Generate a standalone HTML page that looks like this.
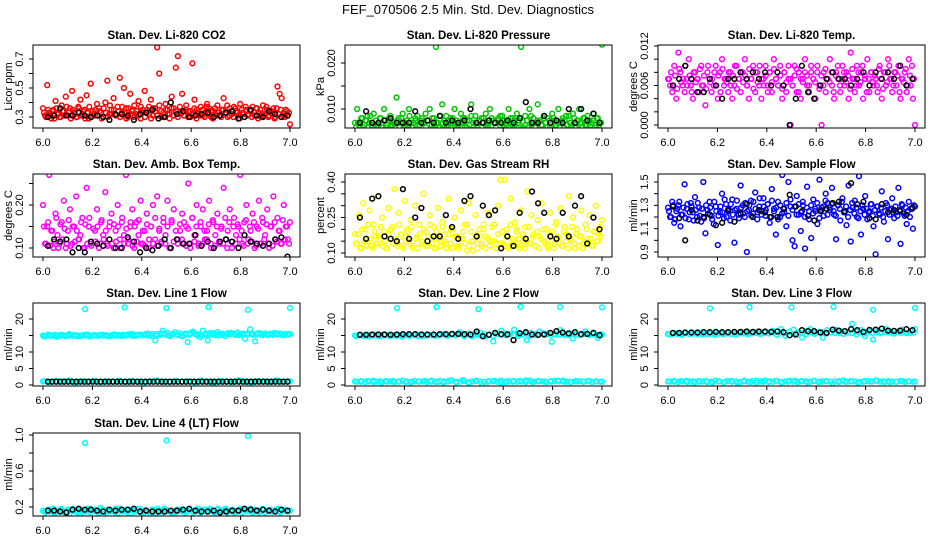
<!DOCTYPE html>
<html><head><meta charset="utf-8">
<style>
html,body{margin:0;padding:0;background:#fff;}
svg{display:block;font-family:"Liberation Sans",Arial,sans-serif;}
</style></head>
<body>
<svg id="chart" width="936" height="540" viewBox="0 0 936 540" xmlns="http://www.w3.org/2000/svg">
<text x="468" y="14" text-anchor="middle" font-size="13">FEF_070506  2.5 Min. Std. Dev. Diagnostics</text>
</svg>
<script>
// ---- data ----
const xTicks = [6.0, 6.2, 6.4, 6.6, 6.8, 7.0];
const xTickLabels = ["6.0","6.2","6.4","6.6","6.8","7.0"];

const co2Red = [0.36,0.31,0.52,0.33,0.29,0.35,0.41,0.32,0.30,0.38,0.34,0.44,0.31,0.36,0.48,0.33,0.30,0.37,0.42,0.32,0.35,0.45,0.29,0.53,0.34,0.31,0.39,0.36,0.33,0.30,0.40,0.55,0.32,0.35,0.43,0.31,0.37,0.57,0.33,0.50,0.36,0.30,0.46,0.34,0.38,0.32,0.41,0.29,0.35,0.48,0.33,0.37,0.42,0.31,0.36,0.78,0.60,0.34,0.30,0.39,0.35,0.32,0.44,0.36,0.64,0.72,0.33,0.46,0.31,0.38,0.34,0.30,0.67,0.42,0.35,0.32,0.37,0.31,0.33,0.39,0.36,0.30,0.34,0.32,0.38,0.31,0.35,0.43,0.33,0.30,0.36,0.32,0.37,0.34,0.31,0.39,0.33,0.30,0.35,0.32,0.34,0.37,0.31,0.36,0.33,0.30,0.38,0.32,0.35,0.31,0.34,0.36,0.30,0.51,0.46,0.43,0.33,0.35,0.31,0.25];
const co2RedB = [0.33,0.30,0.35,0.31,0.34,0.29,0.36,0.32,0.30,0.34,0.31,0.37,0.33,0.29,0.35,0.32,0.30,0.36,0.31,0.34,0.29,0.33,0.37,0.30,0.32,0.35,0.31,0.34,0.29,0.36,0.33,0.30,0.38,0.32,0.35,0.31,0.34,0.30,0.37,0.33,0.29,0.36,0.32,0.35,0.30,0.34,0.31,0.37,0.33,0.30,0.35,0.32,0.29,0.36,0.34,0.31,0.38,0.30,0.33,0.35,0.32,0.29,0.36,0.31,0.34,0.30,0.37,0.33,0.31,0.35,0.30,0.34,0.32,0.36,0.29,0.33,0.31,0.35,0.30,0.37,0.32,0.34,0.29,0.36,0.31,0.33,0.30,0.35,0.32,0.38,0.31,0.34,0.30,0.36,0.33,0.29,0.35,0.32,0.37,0.31,0.34,0.30,0.33,0.36,0.29,0.35,0.32,0.31,0.37,0.30,0.34,0.33,0.29,0.36,0.32,0.35,0.31,0.30,0.34,0.33];
const co2Black = [0.30,0.31,0.36,0.31,0.31,0.33,0.31,0.30,0.31,0.30,0.28,0.32,0.32,0.31,0.28,0.32,0.33,0.35,0.29,0.30,0.40,0.32,0.34,0.30,0.31,0.32,0.33,0.30,0.31,0.33,0.34,0.29,0.30,0.35,0.31,0.30,0.34,0.32,0.30,0.31];
const co2Ticks = [0.3,0.4,0.5,0.6,0.7];
const co2TickLabels = ["0.3","","0.5","","0.7"];

const presGreen = [7,10,6.5,8,6,7.5,8.5,7,6.5,9,7.5,6.5,8,7,10,6,7.5,8.5,6.5,7,12.5,8,7,9,6.5,7.5,10,7,6,8,8.5,6.5,7.5,7,9,7.5,10,6.5,8,23.5,7,6,11,7.5,8.5,6.5,8,7,10,7.5,6.5,9,7,8,6,7.5,11,7,8.5,6.5,7.5,8,7,9,6.5,10,7.5,7,6,8,8.5,7.5,7.5,6.5,10,7,8,6.5,9,7.5,23.5,6,8.5,7.5,10,6.5,8,7,11,7.5,6.5,8.5,7,8,6,9,7.5,6.5,10,7,8,7.5,6.5,8.5,7,9,6,7.5,10,7,8,6.5,8.5,7.5,7,9,6.5,8,7,24];
const presGreenB = [6,7,5.5,8,6.5,7.5,6,8.5,7,5.5,6.5,7,8,6,7.5,5.5,8,6.5,7,6,7.5,6,8,5.5,7,6.5,8.5,6,7,7.5,5.5,6.5,8,7,6,7.5,5.5,8,6.5,7,6,8.5,7,5.5,6.5,7.5,6,8,7,6.5,5.5,7,8,6,7.5,6.5,8.5,5.5,7,6,7.5,6,8,6.5,7,5.5,8,7,6,7.5,6.5,8.5,5.5,7,6,8,6.5,7.5,6,7,8,5.5,6.5,7.5,6,8.5,7,6,7.5,5.5,6.5,8,7,6,7.5,5.5,8,6.5,7,6,7.5,6,8.5,5.5,7,6.5,8,6,7.5,7,6,8,6.5,7,5.5,7.5,6,8,6.5,7];
const presBlack = [7,9.5,7,7,7.5,8,7,7,7,9.5,7,7.5,7,8.5,7,7.5,7,7.5,10,7,7,7.5,7,7,7.5,7,8,11.5,7,7,8.5,7,7.5,7,10,7,10,7.5,9,7];
const presTicks = [10,15,20];
const presTickLabels = ["0.010","","0.020"];

const tempMagenta = [7,6,5,9,4,11,8,6,5,7,10,6,4,8,7,5,9,6,3,8,7,5,6,9,4,8,10,6,7,5,8,4,6,9,7,5,8,10,6,4,7,9,5,8,6,4,7,9,6,8,5,10,7,6,9,4,8,5,7,0,6,9,5,8,4,7,10,6,5,8,7,4,9,6,0,8,5,7,10,6,4,8,7,5,9,6,8,4,11,7,5,9,6,8,4,7,10,5,8,6,7,5,9,4,8,6,10,7,5,8,6,9,4,7,8,5,10,6,4,0];
const tempMagentaB = [7,8,6,7.5,5.5,8.5,6.5,7,9,6,7.5,5,8,6.5,7,8.5,6,7.5,5.5,9,6.5,7,8,6,7.5,5,8.5,7,6.5,8,6,7.5,9,5.5,7,8,6.5,7.5,6,8.5,7,5.5,8,6.5,9,7,6,7.5,5,8,6.5,8.5,7,6,7.5,5.5,8,6.5,9,7,6,7.5,8.5,5,7,6.5,8,7.5,6,9,7,6.5,8,5.5,7.5,6,8.5,7,6.5,8,5,7.5,9,6,7,8,6.5,7.5,5.5,8.5,7,6,8,6.5,9,7.5,5,7,8,6.5,7.5,6,8.5,7,5.5,8,6.5,9,7,6,8,7.5,5,7,6.5,8.5,6,7.5,9,7];
const tempBlack = [6,7,9,7,5,5,7,6,4,7,7,8,7,8,7,8,6,8,6,0,4,9,5,4,6,7,8,7,7,6,7,8,6,8,7,8,7,9,6,7];
const tempTicks = [0,2,4,6,8,10,12];
const tempTickLabels = ["0.000","","","0.006","","","0.012"];

const ambMagenta = [0.20,0.11,0.15,0.27,0.14,0.10,0.18,0.13,0.11,0.16,0.21,0.10,0.14,0.19,0.11,0.15,0.22,0.12,0.13,0.17,0.10,0.24,0.15,0.11,0.28,0.14,0.19,0.10,0.16,0.13,0.23,0.11,0.15,0.18,0.10,0.14,0.20,0.12,0.16,0.13,0.27,0.11,0.15,0.19,0.10,0.16,0.13,0.21,0.11,0.14,0.18,0.10,0.15,0.20,0.12,0.22,0.14,0.11,0.17,0.13,0.21,0.10,0.16,0.19,0.28,0.12,0.14,0.18,0.11,0.15,0.25,0.10,0.17,0.13,0.20,0.11,0.15,0.19,0.12,0.14,0.21,0.10,0.16,0.13,0.18,0.11,0.15,0.24,0.12,0.14,0.19,0.10,0.17,0.13,0.15,0.27,0.11,0.16,0.20,0.12,0.14,0.18,0.10,0.15,0.21,0.11,0.16,0.13,0.19,0.10,0.15,0.22,0.12,0.17,0.14,0.11,0.20,0.15,0.12,0.16];
const ambMagentaB = [0.15,0.11,0.16,0.105,0.14,0.115,0.17,0.10,0.155,0.12,0.145,0.11,0.165,0.105,0.15,0.115,0.14,0.12,0.16,0.10,0.155,0.11,0.17,0.105,0.145,0.115,0.15,0.11,0.165,0.12,0.14,0.105,0.16,0.11,0.155,0.115,0.15,0.10,0.17,0.11,0.145,0.12,0.16,0.105,0.15,0.115,0.165,0.11,0.14,0.105,0.155,0.12,0.15,0.11,0.17,0.105,0.145,0.115,0.16,0.11,0.15,0.10,0.165,0.115,0.14,0.11,0.155,0.12,0.16,0.105,0.145,0.11,0.17,0.115,0.15,0.105,0.16,0.11,0.14,0.12,0.155,0.11,0.165,0.105,0.15,0.115,0.145,0.11,0.17,0.10,0.16,0.115,0.15,0.11,0.155,0.12,0.14,0.105,0.165,0.11,0.15,0.115,0.16,0.105,0.145,0.11,0.17,0.12,0.155,0.11,0.15,0.105,0.16,0.115,0.14,0.11,0.165,0.12,0.15,0.11];
const ambBlack = [0.105,0.12,0.115,0.12,0.09,0.10,0.09,0.115,0.11,0.105,0.12,0.10,0.10,0.125,0.115,0.09,0.10,0.095,0.105,0.12,0.10,0.12,0.11,0.11,0.13,0.105,0.115,0.10,0.115,0.12,0.115,0.10,0.13,0.115,0.11,0.105,0.11,0.12,0.125,0.08];
const ambTicks = [0.10,0.15,0.20,0.25];
const ambTickLabels = ["0.10","","0.20",""];

const rhYellow = [0.18,0.14,0.26,0.12,0.31,0.20,0.15,0.28,0.13,0.22,0.17,0.34,0.14,0.25,0.19,0.12,0.29,0.16,0.21,0.37,0.14,0.27,0.18,0.13,0.32,0.20,0.15,0.24,0.12,0.30,0.17,0.22,0.14,0.35,0.19,0.13,0.26,0.16,0.21,0.12,0.29,0.15,0.23,0.18,0.14,0.33,0.20,0.12,0.25,0.17,0.13,0.28,0.16,0.22,0.11,0.31,0.19,0.15,0.26,0.14,0.20,0.13,0.22,0.17,0.27,0.15,0.15,0.22,0.12,0.30,0.41,0.14,0.41,0.20,0.13,0.33,0.16,0.23,0.19,0.12,0.28,0.15,0.21,0.36,0.14,0.26,0.18,0.13,0.24,0.17,0.31,0.15,0.20,0.12,0.27,0.19,0.14,0.23,0.16,0.29,0.13,0.21,0.18,0.34,0.15,0.25,0.12,0.20,0.17,0.28,0.14,0.22,0.16,0.26,0.13,0.19,0.30,0.15,0.21,0.24];
const rhYellowB = [0.14,0.18,0.12,0.20,0.15,0.13,0.22,0.16,0.12,0.19,0.14,0.17,0.21,0.13,0.15,0.12,0.18,0.20,0.14,0.16,0.13,0.22,0.15,0.12,0.17,0.19,0.14,0.21,0.13,0.16,0.12,0.18,0.15,0.20,0.13,0.17,0.22,0.14,0.12,0.19,0.16,0.13,0.21,0.15,0.12,0.18,0.14,0.20,0.17,0.13,0.12,0.16,0.19,0.14,0.22,0.13,0.15,0.11,0.18,0.12,0.17,0.14,0.20,0.12,0.16,0.13,0.21,0.15,0.12,0.18,0.14,0.19,0.13,0.17,0.12,0.22,0.15,0.14,0.20,0.16,0.13,0.18,0.12,0.15,0.21,0.14,0.17,0.13,0.19,0.12,0.16,0.20,0.14,0.13,0.18,0.15,0.12,0.22,0.17,0.14,0.13,0.19,0.15,0.12,0.16,0.21,0.14,0.18,0.13,0.17,0.12,0.15,0.20,0.14,0.16,0.13,0.19,0.15,0.18,0.17];
const rhBlack = [0.25,0.16,0.33,0.34,0.17,0.16,0.15,0.37,0.16,0.25,0.29,0.15,0.17,0.17,0.26,0.21,0.16,0.32,0.34,0.17,0.30,0.26,0.28,0.12,0.17,0.13,0.27,0.16,0.36,0.31,0.27,0.17,0.16,0.27,0.17,0.30,0.34,0.14,0.25,0.20];
const rhTicks = [0.10,0.15,0.20,0.25,0.30,0.35,0.40];
const rhTickLabels = ["0.10","","","0.25","","","0.40"];

const flowBlue = [1.28,1.20,1.33,1.15,1.25,1.30,1.12,1.22,1.48,1.27,1.18,1.32,1.24,1.37,1.20,1.28,1.16,1.50,1.06,1.26,1.33,1.21,1.14,1.29,0.96,1.24,1.40,1.19,1.31,1.25,1.17,1.35,0.98,1.27,1.22,1.47,1.30,1.20,0.90,1.26,1.34,1.23,1.41,1.18,1.29,1.25,1.36,1.21,1.31,1.15,1.44,1.27,1.05,1.33,1.20,1.56,1.24,1.12,1.50,1.29,1.00,0.95,1.38,1.22,1.08,1.30,0.93,1.46,1.18,1.02,1.35,1.25,1.14,1.52,1.28,1.21,1.40,1.32,1.26,1.45,1.22,1.01,1.30,1.17,1.36,1.24,1.13,1.47,0.99,1.28,1.34,1.20,1.55,1.05,1.27,1.38,1.18,1.25,1.31,1.12,0.88,1.29,1.22,1.42,1.16,1.32,1.01,1.26,1.36,1.19,1.24,1.45,0.97,1.30,1.21,1.14,1.33,1.27,1.10,1.29];
const flowBlueB = [1.25,1.20,1.30,1.18,1.27,1.33,1.22,1.28,1.19,1.31,1.24,1.29,1.17,1.26,1.32,1.21,1.27,1.19,1.30,1.23,1.28,1.18,1.33,1.25,1.21,1.29,1.24,1.35,1.20,1.27,1.31,1.22,1.26,1.34,1.19,1.28,1.23,1.32,1.25,1.30,1.21,1.33,1.27,1.24,1.36,1.22,1.29,1.26,1.31,1.20,1.34,1.25,1.28,1.18,1.30,1.23,1.27,1.32,1.21,1.35,1.26,1.29,1.22,1.31,1.24,1.33,1.20,1.28,1.25,1.30,1.23,1.27,1.32,1.19,1.26,1.29,1.34,1.22,1.28,1.31,1.25,1.21,1.30,1.27,1.33,1.24,1.29,1.20,1.26,1.32,1.23,1.28,1.19,1.25,1.30,1.22,1.27,1.24,1.31,1.21,1.26,1.29,1.23,1.28,1.20,1.25,1.30,1.22,1.27,1.24,1.29,1.21,1.26,1.31,1.23,1.28,1.25,1.20,1.27,1.30];
const flowBlack = [1.29,1.19,1.00,1.26,1.17,1.20,1.22,1.13,1.15,1.26,1.16,1.23,1.31,1.20,1.26,1.24,1.20,1.20,1.27,1.39,1.29,1.25,1.21,1.17,1.25,1.27,1.32,1.33,1.25,1.49,1.31,1.33,1.19,1.18,1.31,1.24,1.26,1.25,1.22,1.28];
const flowTicks = [0.9,1.0,1.1,1.2,1.3,1.4,1.5];
const flowTickLabels = ["0.9","","1.1","","1.3","","1.5"];

const lineTicks = [0,5,10,15,20];
const lineTickLabels = ["0","5","10","","20"];
const spikeX = [6.17,6.33,6.50,6.67,6.83,7.00];

const line1CyanHigh = [15,14.8,15.1,14.9,15,15.2,14.9,15,15.1,14.8,15,15.2,14.9,15.1,15,14.8,15.1,15,15.2,14.9,15,15.1,14.9,15.2,15,15.1,14.8,15,15.3,15,15.1,14.9,15.2,15,15.3,15.1,14.9,15.2,15,15.3,15.1,15.4,15,15.2,15.5,13.5,15.1,15.6,16.5,15.2,15.8,14.8,15.4,16,15.2,15.6,14.9,15.3,13,15.7,16.2,15.4,15,14.5,16.5,15.2,13.5,15.8,15.4,15.1,16,15.5,15.3,14.8,15.7,15.4,15.6,15.2,15.9,15.5,15.3,14,15.6,16.9,15.2,13.2,15.7,15.4,15.1,15.6,15.3,15.5,15.2,15.8,15.4,15.6,15.1,15.5,15.3,15.4];
const line1CyanHighB = [14.7,15.3,15.0,14.6,15.2,14.9,15.4,15.1,14.8,15.0,15.3,14.7,15.1,14.9,15.2,15.0,14.8,15.3,15.1,14.9,15.2,15.5,14.9,15.3,15.1,15.6,14.8,15.4,15.2,15.7,15.0,15.5,15.3,14.9,15.6,15.2,15.8,15.4,15.1,15.6,15.3,15.7,15.0,15.5,15.2,15.8,15.4,15.1,15.6,15.3,15.5,15.2,15.7,15.4,15.1,15.6,15.3,15.5,15.2,15.4];
const line1CyanLow = [1.1,0.9,1.2,1.0,1.3,0.8,1.1,1.0,1.2,0.9,1.1,1.0,1.3,0.9,1.2,1.0,0.8,1.1,1.4,1.0,0.9,1.2,1.0,1.1,0.7,1.3,1.0,0.6,1.2,1.1,0.9,1.4,1.0,0.8,1.2,1.1,0.9,1.3,1.0,1.1];
const line1Spikes = [23,23.5,23.3,23.6,22.8,23.4];
const line1Black = [1.0,1.0,1.0,1.0,1.0,1.0,1.0,1.0,1.0,1.0,1.0,1.0,1.0,1.0,1.0,1.0,1.0,1.0,1.0,1.0,1.0,1.0,1.0,1.0,1.0,1.0,1.0,1.0,1.0,1.0,1.0,1.0,1.0,1.0,1.0,1.0,1.0,1.0,1.0,1.0,1.0,1.0,1.0,1.0,1.0,1.0,1.0,1.0,1.0,1.0,1.0,1.0,1.0,1.0,1.0,1.0,1.0,1.0,1.0,1.0];

const line2CyanHigh = [15,15.1,14.9,15.2,15,15.1,14.8,15,15.2,15.1,14.9,15,15.2,15,15.1,14.9,15.3,15,15.1,15.2,15,15.3,15.1,15.4,15.2,16,15.1,15.6,14.8,15.3,15.7,14.7,15.2,13.2,15.6,16.5,15.1,15.4,16.8,14.9,15.5,13.6,15.8,15.2,16.2,15.4,15.6,13.1,15.3,16.6,15.2,15.8,14.1,15.5,15.3,16.2,15.1,15.6,14.3,15.2];
const line2CyanHighB = [14.8,15.2,15.0,14.7,15.3,14.9,15.1,15.2,14.8,15.0,15.3,14.7,15.1,14.9,15.2,15.0,14.8,15.3,15.1,14.9,15.2,15.4,14.9,15.3,15.1,15.5,14.8,15.4,15.2,15.6,15.0,15.4,15.3,14.9,15.5,15.2,15.6,15.4,15.1,15.5,15.3,15.6,15.0,15.4,15.2,15.7,15.4,15.1,15.5,15.3,15.4,15.2,15.6,15.4,15.1,15.5,15.3,15.4,15.2,15.4];
const line2CyanLow = [1.1,1.0,1.2,0.9,1.1,1.0,1.2,1.1,0.9,1.0,1.1,1.2,1.0,0.9,1.1,1.3,0.8,1.5,0.6,1.2,0.4,1.0,1.3,0.8,1.1,1.0,1.2,1.4,0.9,1.1,1.0,1.2,1.3,1.0,0.9,1.1,1.0,1.2,1.1,1.0];
const line2CyanLowB = [1.0,1.2,0.9,1.1,1.3,1.0,0.8,1.2,1.1,0.9,1.0,1.3,1.1,0.8,1.2,1.0,1.1,0.9,1.3,1.0,1.2,0.7,1.1,1.4,0.9,1.0,1.2,0.8,1.1,1.3,1.0,0.9,1.2,1.1,1.0,1.3,0.9,1.1,1.2,1.0,1.1,0.9,1.3,1.0,1.2,1.1,0.9,1.0,1.2,1.1,1.3,1.0,0.9,1.2,1.1,1.0,1.2,0.9,1.1,1.0];
const line2Spikes = [23.3,23.6,23.0,23.7,23.6,23.5];
const line2Black = [15.2,15.2,15.3,15.3,15.3,15.2,15.3,15.4,15.4,15.4,15.3,15.3,15.3,15.4,15.4,15.5,15.5,15.4,15.3,16.2,14.8,15.2,15.8,15.4,15.3,13.6,15.7,16.0,15.3,15.2,15.3,15.8,16.3,15.9,15.6,16.0,15.4,15.5,15.8,15.1];

const line3CyanHigh = [15.5,15.4,15.6,15.5,15.7,15.5,15.6,15.4,15.6,15.7,15.5,15.6,15.8,15.6,15.7,15.5,15.8,15.6,15.9,15.7,15.6,15.8,15.7,16,15.8,16.5,15.2,16.9,14.9,16.2,16.8,15.6,14.4,16.4,16.9,15.5,16.1,14.3,16.6,15.9,16.8,15.7,16.4,16.1,18.5,15.3,16.7,14.8,16.2,13.8,16.5,15.9,16.9,16.3,15.6,16.2,16.8,15.8,16.4,16.9];
const line3CyanHighB = [15.3,15.7,15.5,15.2,15.8,15.4,15.6,15.7,15.3,15.5,15.8,15.2,15.6,15.4,15.7,15.5,15.3,15.8,15.6,15.4,15.7,15.9,15.4,15.8,15.6,16.0,15.3,15.9,15.7,16.1,15.5,15.9,15.8,15.4,16.0,15.7,16.1,15.9,15.6,16.0,15.8,16.1,15.5,15.9,15.7,16.2,15.9,15.6,16.0,15.8,15.9,15.7,16.1,15.9,15.6,16.0,15.8,15.9,15.7,15.9];
const line3CyanLow = [1.1,1.0,1.2,0.9,1.1,1.0,1.2,0.8,1.1,1.0,1.2,0.6,1.1,0.9,1.3,1.0,1.1,1.2,0.9,1.0,1.3,1.1,0.8,1.2,1.0,1.1,0.5,1.2,1.0,1.1,0.7,1.2,1.0,1.3,1.1,0.9,1.0,1.2,1.1,1.0];
const line3CyanLowB = [1.0,1.2,0.9,1.1,1.3,1.0,0.8,1.2,1.1,0.9,1.0,1.3,1.1,0.8,1.2,1.0,1.1,0.9,1.3,1.0,1.2,0.7,1.1,1.4,0.9,1.0,1.2,0.8,1.1,1.3,1.0,0.9,1.2,1.1,1.0,1.3,0.9,1.1,1.2,1.0,1.1,0.9,1.3,1.0,1.2,1.1,0.9,1.0,1.2,1.1,1.3,1.0,0.9,1.2,1.1,1.0,1.2,0.9,1.1,1.0];
const line3Spikes = [23.2,23.6,23.5,23.7,22.8,23.4];
const line3Black = [15.8,15.8,15.9,15.9,15.9,16.0,16.0,16.1,16.0,16.0,16.1,16.1,16.2,16.1,16.2,16.2,16.1,16.2,16.0,15.1,15.3,16.6,16.3,16.3,15.9,15.8,16.8,16.5,16.3,16.9,16.6,16.1,16.7,16.8,17.1,16.5,16.4,16.5,16.9,16.6];

const lt4Cyan = [0.16,0.14,0.17,0.15,0.18,0.14,0.16,0.17,0.15,0.13,0.17,0.16,0.18,0.15,0.14,0.17,0.16,0.15,0.18,0.14,0.16,0.17,0.15,0.19,0.16,0.14,0.17,0.15,0.16,0.18,0.13,0.16,0.17,0.15,0.14,0.17,0.16,0.15,0.18,0.14,0.16,0.17,0.15,0.13,0.17,0.16,0.18,0.15,0.14,0.17,0.16,0.15,0.13,0.14,0.16,0.17,0.15,0.14,0.16,0.17,0.15,0.16,0.18,0.14,0.16,0.17,0.15,0.18,0.16,0.14,0.17,0.16,0.15,0.18,0.14,0.16,0.17,0.15,0.16,0.18,0.14,0.16,0.17,0.15,0.14,0.17,0.16,0.15,0.18,0.14,0.16,0.17,0.15,0.16,0.18,0.15,0.16,0.17,0.15,0.16];
const lt4CyanB = [0.15,0.17,0.14,0.16,0.18,0.15,0.13,0.17,0.16,0.14,0.15,0.18,0.16,0.13,0.17,0.15,0.16,0.14,0.18,0.15,0.17,0.13,0.16,0.18,0.14,0.15,0.17,0.13,0.16,0.18,0.15,0.14,0.17,0.16,0.15,0.18,0.14,0.16,0.17,0.15,0.16,0.14,0.18,0.15,0.17,0.16,0.14,0.15,0.17,0.16,0.18,0.15,0.14,0.17,0.16,0.15,0.17,0.14,0.16,0.15];
const lt4SpikeX = [6.17,6.50,6.83];
const lt4Spikes = [0.91,0.94,0.99];
const lt4Black = [0.16,0.16,0.15,0.14,0.17,0.18,0.17,0.17,0.16,0.15,0.17,0.16,0.17,0.17,0.18,0.15,0.16,0.15,0.15,0.15,0.16,0.16,0.17,0.18,0.16,0.15,0.15,0.16,0.14,0.15,0.16,0.16,0.18,0.17,0.16,0.17,0.16,0.15,0.17,0.16];

// ---- layout ----
const NS = "http://www.w3.org/2000/svg";
const svg = document.getElementById('chart');
const colLeft = [33,345,658], rowTop = [45,174,303,433];
const PW = 267, PH = 83;

function mk(tag, attrs, parent){
  const e = document.createElementNS(NS, tag);
  for (const k in attrs) e.setAttribute(k, attrs[k]);
  (parent||svg).appendChild(e);
  return e;
}
function evenX(n, x0, x1){ const a=[]; for(let i=0;i<n;i++) a.push(n===1?x0:x0+(x1-x0)*i/(n-1)); return a; }

function panel(p){
  const L = colLeft[p.col], T = rowTop[p.row];
  const g = mk('g', {});
  
  
  const xs = v => L + 10 + (v - 6) * 247;
  const ys = v => p.y0px + (v - p.y0) * (p.y1px - p.y0px) / (p.y1 - p.y0);
  const clipId = 'clip-' + p.name;
  const cp = mk('clipPath', {id: clipId}, g);
  mk('rect', {x: L, y: T, width: PW, height: PH}, cp);
  const marks = mk('g', {'clip-path': 'url(#' + clipId + ')'}, g);
  
  
  p.series.forEach(s => {
    const xv = s.x || evenX(s.y.length, s.x0, s.x1);
    s.y.forEach((v, i) => {
      const c = mk('circle', {cx: xs(xv[i]).toFixed(1), cy: ys(v).toFixed(1), r: 2.4, fill: 'none', stroke: s.color, 'stroke-width': 1.5}, marks);
      
      
    });
  });
  const box = mk('rect', {x: L, y: T, width: PW, height: PH, fill: 'none', stroke: '#000', 'stroke-width': 1}, g);
  
  
  const ttl = mk('text', {x: L + PW/2, y: T - 6, 'text-anchor': 'middle', 'font-size': 11.5, 'font-weight': 'bold'}, g);
  ttl.textContent = p.title;
  
  
  xTicks.forEach((t, i) => {
    const x = xs(t);
    mk('line', {x1: x, x2: x, y1: T + PH, y2: T + PH + 4, stroke: '#000'}, g);
    const lb = mk('text', {x: x, y: T + PH + 18, 'text-anchor': 'middle', 'font-size': 11}, g);
    lb.textContent = xTickLabels[i];
    
    
  });
  p.ticks.forEach((t, i) => {
    const y = ys(t);
    mk('line', {x1: L - 4, x2: L, y1: y, y2: y, stroke: '#000'}, g);
    if (p.tickLabels[i]) {
      const lb = mk('text', {x: 0, y: 0, 'text-anchor': 'middle', 'font-size': 11, transform: 'translate(' + (L - 10) + ',' + y + ') rotate(-90)'}, g);
      lb.textContent = p.tickLabels[i];
      
      
    }
  });
  const yl = mk('text', {x: 0, y: 0, 'text-anchor': 'middle', 'font-size': 11, transform: 'translate(' + (L - 21) + ',' + (T + PH/2) + ') rotate(-90)'}, g);
  yl.textContent = p.ylabel;
  
  
}

panel({name:'co2-panel', col:0, row:0, title:'Stan. Dev. Li-820 CO2', ylabel:'Licor ppm', y0:0.3, y0px:117, y1:0.7, y1px:59, ticks:co2Ticks, tickLabels:co2TickLabels,
  series:[{name:'co2-red', color:'#ff0000', y:co2Red, x0:6.0, x1:7.0},{name:'co2-red-b', color:'#ff0000', y:co2RedB, x0:6.004, x1:6.996},{name:'co2-black', color:'#000', y:co2Black, x0:6.02, x1:6.99}]});
panel({name:'pressure-panel', col:1, row:0, title:'Stan. Dev. Li-820 Pressure', ylabel:'kPa', y0:10, y0px:109, y1:20, y1px:63, ticks:presTicks, tickLabels:presTickLabels,
  series:[{name:'pressure-green', color:'#00c800', y:presGreen, x0:6.0, x1:7.0},{name:'pressure-green-b', color:'#00c800', y:presGreenB, x0:6.004, x1:6.996},{name:'pressure-black', color:'#000', y:presBlack, x0:6.02, x1:6.99}]});
panel({name:'temp-panel', col:2, row:0, title:'Stan. Dev. Li-820 Temp.', ylabel:'degrees C', y0:0, y0px:125, y1:12, y1px:46, ticks:tempTicks, tickLabels:tempTickLabels,
  series:[{name:'temp-magenta', color:'#ff00ff', y:tempMagenta, x0:6.0, x1:7.0},{name:'temp-magenta-b', color:'#ff00ff', y:tempMagentaB, x0:6.004, x1:6.996},{name:'temp-black', color:'#000', y:tempBlack, x0:6.02, x1:6.99}]});
panel({name:'ambbox-panel', col:0, row:1, title:'Stan. Dev. Amb. Box Temp.', ylabel:'degrees C', y0:0.10, y0px:248, y1:0.20, y1px:205, ticks:ambTicks, tickLabels:ambTickLabels,
  series:[{name:'ambbox-magenta', color:'#ff00ff', y:ambMagenta, x0:6.0, x1:7.0},{name:'ambbox-magenta-b', color:'#ff00ff', y:ambMagentaB, x0:6.004, x1:6.996},{name:'ambbox-black', color:'#000', y:ambBlack, x0:6.02, x1:6.99}]});
panel({name:'rh-panel', col:1, row:1, title:'Stan. Dev. Gas Stream RH', ylabel:'percent', y0:0.10, y0px:253, y1:0.40, y1px:182, ticks:rhTicks, tickLabels:rhTickLabels,
  series:[{name:'rh-yellow', color:'#ffff00', y:rhYellow, x0:6.0, x1:7.0},{name:'rh-yellow-b', color:'#ffff00', y:rhYellowB, x0:6.004, x1:6.996},{name:'rh-black', color:'#000', y:rhBlack, x0:6.02, x1:6.99}]});
panel({name:'sampleflow-panel', col:2, row:1, title:'Stan. Dev. Sample Flow', ylabel:'ml/min', y0:0.9, y0px:252, y1:1.5, y1px:182, ticks:flowTicks, tickLabels:flowTickLabels,
  series:[{name:'sampleflow-blue', color:'#0000ff', y:flowBlue, x0:6.0, x1:7.0},{name:'sampleflow-blue-b', color:'#0000ff', y:flowBlueB, x0:6.004, x1:6.996},{name:'sampleflow-black', color:'#000', y:flowBlack, x0:6.02, x1:6.99}]});
[['line1', 0, 'Stan. Dev. Line 1 Flow', line1CyanHigh, line1CyanHighB, line1CyanLow, line1CyanLow, line1Spikes, line1Black],
 ['line2', 1, 'Stan. Dev. Line 2 Flow', line2CyanHigh, line2CyanHighB, line2CyanLow, line2CyanLowB, line2Spikes, line2Black],
 ['line3', 2, 'Stan. Dev. Line 3 Flow', line3CyanHigh, line3CyanHighB, line3CyanLow, line3CyanLowB, line3Spikes, line3Black]].forEach(d => {
  panel({name:d[0]+'-panel', col:d[1], row:2, title:d[2], ylabel:'ml/min', y0:0, y0px:385, y1:20, y1px:319, ticks:lineTicks, tickLabels:lineTickLabels,
    series:[{name:d[0]+'-cyan-high', color:'#00ffff', y:d[3], x0:6.0, x1:7.0},
            {name:d[0]+'-cyan-high-b', color:'#00ffff', y:d[4], x0:6.005, x1:6.995},
            {name:d[0]+'-cyan-low', color:'#00ffff', y:d[5], x0:6.0, x1:7.0},
            {name:d[0]+'-cyan-low-b', color:'#00ffff', y:d[6], x0:6.008, x1:6.992},
            {name:d[0]+'-cyan-spikes', color:'#00ffff', y:d[7], x:spikeX},
            {name:d[0]+'-black', color:'#000', y:d[8], x0:6.02, x1:6.99}]});
});
panel({name:'line4-panel', col:0, row:3, title:'Stan. Dev. Line 4 (LT) Flow', ylabel:'ml/min', y0:0.2, y0px:507, y1:1.0, y1px:435, ticks:[0.2,0.4,0.6,0.8,1.0], tickLabels:["0.2","","0.6","","1.0"],
  series:[{name:'line4-cyan', color:'#00ffff', y:lt4Cyan, x0:6.0, x1:7.0},
          {name:'line4-cyan-b', color:'#00ffff', y:lt4CyanB, x0:6.008, x1:6.992},
          {name:'line4-cyan-spikes', color:'#00ffff', y:lt4Spikes, x:lt4SpikeX},
          {name:'line4-black', color:'#000', y:lt4Black, x0:6.02, x1:6.99}]});
</script>
</body></html>
